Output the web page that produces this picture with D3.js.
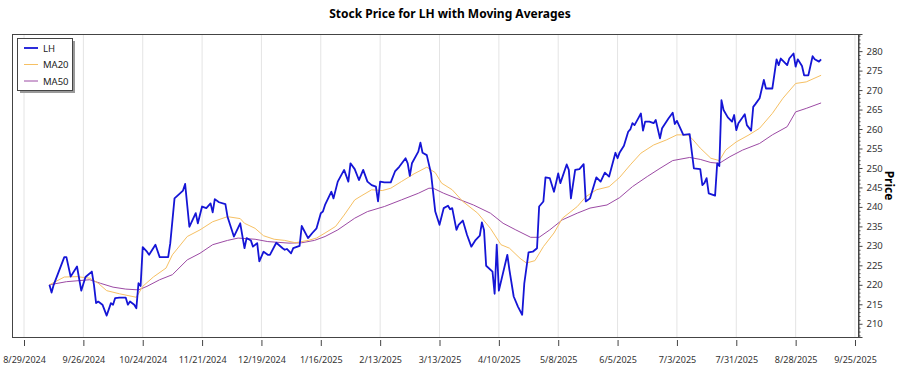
<!DOCTYPE html>
<html>
<head>
<meta charset="utf-8">
<script src="https://cdn.jsdelivr.net/npm/d3@7"></script>
<style>
  body { margin: 0; background: #fff; }
  svg text { font-family: "Noto Sans", "Open Sans", sans-serif; }
</style>
</head>
<body>
<div id="chart"></div>
<script>
// price vertices
const lhDates = ["2024-09-10","2024-09-11","2024-09-12","2024-09-17","2024-09-18","2024-09-20","2024-09-23","2024-09-25","2024-09-27","2024-09-30",
  "2024-10-01","2024-10-02","2024-10-03","2024-10-05","2024-10-07","2024-10-09","2024-10-10","2024-10-11","2024-10-13","2024-10-16",
  "2024-10-17","2024-10-18","2024-10-20","2024-10-21","2024-10-22","2024-10-23","2024-10-24","2024-10-26","2024-10-27","2024-10-30",
  "2024-11-01","2024-11-03","2024-11-05","2024-11-06","2024-11-08","2024-11-12","2024-11-13","2024-11-15","2024-11-18","2024-11-19",
  "2024-11-21","2024-11-23","2024-11-25","2024-11-26","2024-11-27","2024-11-29","2024-12-02","2024-12-03","2024-12-06","2024-12-09",
  "2024-12-11","2024-12-12","2024-12-14","2024-12-15","2024-12-17","2024-12-18","2024-12-20","2024-12-22","2024-12-23","2024-12-26",
  "2024-12-29","2024-12-30","2024-12-31","2025-01-02","2025-01-03","2025-01-06","2025-01-07","2025-01-10","2025-01-12","2025-01-14",
  "2025-01-16","2025-01-17","2025-01-18","2025-01-21","2025-01-22","2025-01-24","2025-01-27","2025-01-29","2025-01-30","2025-02-01",
  "2025-02-03","2025-02-05","2025-02-07","2025-02-09","2025-02-11","2025-02-12","2025-02-13","2025-02-15","2025-02-18","2025-02-20",
  "2025-02-22","2025-02-25","2025-02-26","2025-02-27","2025-02-28","2025-03-03","2025-03-04","2025-03-05","2025-03-07","2025-03-09",
  "2025-03-11","2025-03-13","2025-03-15","2025-03-17","2025-03-18","2025-03-19","2025-03-21","2025-03-22","2025-03-24","2025-03-26",
  "2025-03-28","2025-03-30","2025-04-01","2025-04-02","2025-04-03","2025-04-04","2025-04-07","2025-04-08","2025-04-09","2025-04-10",
  "2025-04-14","2025-04-15","2025-04-17","2025-04-19","2025-04-21","2025-04-22","2025-04-24","2025-04-26","2025-04-28","2025-04-29",
  "2025-05-01","2025-05-02","2025-05-04","2025-05-06","2025-05-08","2025-05-09","2025-05-12","2025-05-13","2025-05-14","2025-05-16",
  "2025-05-18","2025-05-20","2025-05-21","2025-05-23","2025-05-26","2025-05-28","2025-05-30","2025-06-01","2025-06-04","2025-06-05",
  "2025-06-06","2025-06-08","2025-06-10","2025-06-11","2025-06-12","2025-06-13","2025-06-15","2025-06-16","2025-06-17","2025-06-18",
  "2025-06-20","2025-06-22","2025-06-23","2025-06-25","2025-06-26","2025-06-29","2025-07-01","2025-07-02","2025-07-03","2025-07-05",
  "2025-07-06","2025-07-09","2025-07-10","2025-07-11","2025-07-14","2025-07-15","2025-07-16","2025-07-17","2025-07-18","2025-07-21",
  "2025-07-22","2025-07-23","2025-07-24","2025-07-25","2025-07-27","2025-07-29","2025-07-30","2025-07-31","2025-08-01","2025-08-03",
  "2025-08-04","2025-08-05","2025-08-07","2025-08-08","2025-08-09","2025-08-11","2025-08-13","2025-08-14","2025-08-17","2025-08-19",
  "2025-08-20","2025-08-21","2025-08-24","2025-08-25","2025-08-27","2025-08-28","2025-08-29","2025-08-31","2025-09-01","2025-09-03",
  "2025-09-05","2025-09-06","2025-09-08","2025-09-09"];
const lhPrice = [220.0,218.0,220.0,227.1,227.1,222.1,224.7,218.5,222.0,223.4,
  220.0,215.3,215.7,214.9,212.1,215.3,214.9,216.6,216.7,216.7,
  214.9,215.7,214.9,214.0,220.4,219.7,229.7,228.5,227.7,230.3,
  227.1,227.1,227.1,230.7,242.2,244.2,245.9,234.9,238.4,235.8,
  240.1,239.7,240.9,238.6,242.0,241.2,240.7,237.5,232.4,235.8,
  229.4,232.0,231.4,229.8,230.7,226.0,228.5,227.7,227.7,230.8,
  229.4,229.0,229.2,228.1,229.4,230.0,235.1,232.0,233.3,234.5,
  238.4,238.8,240.5,243.9,242.2,246.5,249.5,246.5,251.2,249.7,
  246.9,249.5,246.5,245.6,245.2,241.4,246.5,246.3,246.3,249.1,
  250.3,252.5,251.2,248.0,251.2,254.2,256.5,253.9,253.3,248.6,
  238.8,235.4,239.7,240.3,239.4,239.7,234.1,235.4,236.5,232.8,
  229.8,231.5,232.6,236.0,234.1,224.9,223.4,217.7,230.3,218.5,
  227.7,223.8,217.0,214.4,212.3,220.4,228.3,228.5,229.4,240.1,
  241.4,247.6,247.4,243.9,248.6,246.1,250.9,249.5,242.2,249.5,
  249.7,251.0,241.4,242.2,247.6,246.5,248.8,247.8,253.9,252.5,
  254.0,255.7,259.3,259.9,261.5,261.0,263.0,264.0,259.6,261.9,
  261.9,261.5,262.3,257.6,260.2,262.7,264.2,261.3,262.1,259.7,
  258.5,258.7,254.2,249.9,249.7,245.6,246.2,247.4,243.5,242.9,
  251.2,250.5,267.4,264.9,263.0,261.9,263.6,259.7,261.5,263.0,
  263.8,261.0,259.6,265.7,266.4,267.9,272.6,270.4,270.4,277.9,
  276.4,278.1,276.4,278.1,279.4,276.0,277.9,276.2,273.8,273.8,
  278.7,277.9,277.3,277.9];

const ma20Dates = ["2024-09-10","2024-09-17","2024-09-23","2024-09-29","2024-10-03","2024-10-07","2024-10-13","2024-10-21","2024-10-24","2024-10-29",
  "2024-11-04","2024-11-07","2024-11-14","2024-11-20","2024-11-26","2024-12-03","2024-12-09","2024-12-11","2024-12-16","2024-12-20",
  "2024-12-25","2024-12-30","2025-01-04","2025-01-10","2025-01-14","2025-01-18","2025-01-23","2025-01-27","2025-02-01","2025-02-04",
  "2025-02-09","2025-02-14","2025-02-18","2025-02-23","2025-03-01","2025-03-07","2025-03-11","2025-03-14","2025-03-19","2025-03-24",
  "2025-03-31","2025-04-06","2025-04-11","2025-04-15","2025-04-20","2025-04-23","2025-04-27","2025-05-01","2025-05-06","2025-05-10",
  "2025-05-17","2025-05-21","2025-05-26","2025-06-01","2025-06-06","2025-06-11","2025-06-16","2025-06-22","2025-06-28","2025-07-03",
  "2025-07-08","2025-07-10","2025-07-14","2025-07-19","2025-07-23","2025-07-26","2025-07-31","2025-08-06","2025-08-11","2025-08-17",
  "2025-08-22","2025-08-28","2025-09-02","2025-09-09"];
const ma20Price = [220.0,222.0,222.1,221.7,220.4,218.5,217.7,216.8,219.6,222.0,
  224.3,227.7,232.4,234.1,236.2,237.5,237.0,235.8,234.5,232.6,
  231.7,231.4,230.8,231.4,232.0,233.3,235.0,237.9,241.8,242.8,
  244.4,244.2,244.8,246.5,248.5,250.2,248.8,246.1,244.4,241.4,
  238.4,234.5,230.3,229.4,226.8,225.6,226.2,229.8,233.3,237.1,
  240.1,242.6,244.4,245.2,247.6,250.8,253.8,255.9,257.2,258.5,
  258.5,257.6,255.1,252.5,251.9,254.6,256.7,258.5,260.2,264.0,
  267.9,271.7,272.1,273.8];

const ma50Dates = ["2024-09-10","2024-09-18","2024-09-29","2024-10-04","2024-10-10","2024-10-16","2024-10-22","2024-10-26","2024-11-01","2024-11-07",
  "2024-11-14","2024-11-20","2024-11-26","2024-12-03","2024-12-08","2024-12-16","2024-12-22","2025-01-01","2025-01-07","2025-01-13",
  "2025-01-18","2025-01-24","2025-02-01","2025-02-07","2025-02-15","2025-02-23","2025-03-03","2025-03-08","2025-03-10","2025-03-15",
  "2025-03-21","2025-03-29","2025-04-06","2025-04-12","2025-04-18","2025-04-25","2025-04-29","2025-05-04","2025-05-10","2025-05-17",
  "2025-05-23","2025-05-31","2025-06-06","2025-06-12","2025-06-19","2025-06-25","2025-07-01","2025-07-09","2025-07-14","2025-07-19",
  "2025-07-23","2025-07-28","2025-08-03","2025-08-11","2025-08-17","2025-08-24","2025-08-28","2025-09-02","2025-09-09"];
const ma50Price = [220.0,220.8,221.3,220.4,219.4,218.9,218.7,219.6,221.3,222.6,
  226.4,228.1,230.3,231.4,232.0,231.7,231.1,230.7,230.8,231.4,
  232.4,234.1,237.1,238.8,240.1,241.8,243.5,244.8,244.8,243.5,
  242.2,240.5,238.4,235.8,234.1,232.2,232.2,234.1,236.7,238.4,
  239.7,240.5,242.4,245.2,247.8,249.9,251.9,252.7,252.2,251.4,
  251.2,252.9,254.6,256.3,258.5,260.6,264.4,265.3,266.7];

const xTickLabels = ["8/29/2024","9/26/2024","10/24/2024","11/21/2024","12/19/2024","1/16/2025","2/13/2025",
  "3/13/2025","4/10/2025","5/8/2025","6/5/2025","7/3/2025","7/31/2025","8/28/2025","9/25/2025"];
const yTicks = [210,215,220,225,230,235,240,245,250,255,260,265,270,275,280];

const seriesNames = ["LH","MA20","MA50"];
const seriesColors = ["#1515d6","#f6c063","#9c4aa4"];
const seriesWidths = [1.8,1,1];

const width = 900, height = 375;
const margin = {top: 34, right: 42, bottom: 38, left: 12};

const parse = d3.timeParse("%Y-%m-%d");
const parseTick = d3.timeParse("%m/%d/%Y");

const svg = d3.select("#chart").append("svg")
    .attr("width", width)
    .attr("height", height);

const x = d3.scaleTime()
    .domain([new Date(2024, 7, 23, 8), new Date(2025, 8, 26, 10)])
    .range([margin.left, width - margin.right]);

const y = d3.scaleLinear()
    .domain([206.6, 284.4])
    .range([height - margin.bottom, margin.top]);

const tickDates = xTickLabels.map(parseTick);

// vertical grid
svg.append("g")
    .selectAll("line")
    .data(tickDates.filter(d => x(d) > margin.left + 2 && x(d) < width - margin.right - 2))
    .enter().append("line")
    .attr("x1", d => x(d)).attr("x2", d => x(d))
    .attr("y1", margin.top).attr("y2", height - margin.bottom)
    .attr("stroke", "#e4e4e4")
    .attr("stroke-width", 1);

// lines
const series = [
    {name: seriesNames[0], dates: lhDates, vals: lhPrice},
    {name: seriesNames[1], dates: ma20Dates, vals: ma20Price},
    {name: seriesNames[2], dates: ma50Dates, vals: ma50Price}
];

const line = d3.line()
    .x(d => x(d[0]))
    .y(d => y(d[1]));

const plot = svg.append("g");
// MAs underneath, price on top
[2, 1, 0].forEach(i => {
    const s = series[i];
    plot.append("path")
        .datum(s.dates.map((d, j) => [parse(d), s.vals[j]]))
        .attr("fill", "none")
        .attr("stroke", seriesColors[i])
        .attr("stroke-width", seriesWidths[i])
        .attr("stroke-linejoin", "round")
        .attr("d", line);
});

// frame
svg.append("rect")
    .attr("x", margin.left + 0.5)
    .attr("y", margin.top + 0.5)
    .attr("width", width - margin.left - margin.right)
    .attr("height", height - margin.top - margin.bottom)
    .attr("fill", "none")
    .attr("stroke", "#444")
    .attr("stroke-width", 1);

// right y axis
const yAxis = d3.axisRight(y)
    .tickValues(yTicks)
    .tickSize(4)
    .tickPadding(4);

const yg = svg.append("g")
    .attr("transform", `translate(${width - margin.right + 0.5},0)`)
    .call(yAxis);
yg.select(".domain").attr("stroke", "#444");
yg.selectAll(".tick line").attr("stroke", "#444");
yg.selectAll(".tick text").attr("fill", "#333").style("font-size", "9.5px");

// minor ticks
yg.append("g")
    .selectAll("line")
    .data(d3.range(207, 285, 1).filter(v => v % 5 !== 0))
    .enter().append("line")
    .attr("x1", 0).attr("x2", 2)
    .attr("y1", d => y(d) + 0.5).attr("y2", d => y(d) + 0.5)
    .attr("stroke", "#444");

// bottom x axis
const xAxis = d3.axisBottom(x)
    .tickValues(tickDates)
    .tickFormat((d, i) => xTickLabels[i])
    .tickSize(6)
    .tickPadding(11);

const xg = svg.append("g")
    .attr("transform", `translate(0,${height - margin.bottom + 3})`)
    .call(xAxis);
xg.select(".domain").remove();
xg.selectAll(".tick line").attr("stroke", "#444");
xg.selectAll(".tick text").attr("fill", "#333").style("font-size", "9px");

// title
svg.append("text")
    .attr("x", 450)
    .attr("y", 18)
    .attr("text-anchor", "middle")
    .style("font-size", "12px")
    .style("font-weight", "bold")
    .text("Stock Price for LH with Moving Averages");

// y axis label
svg.append("text")
    .attr("transform", `translate(885,${(margin.top + height - margin.bottom) / 2}) rotate(90)`)
    .attr("text-anchor", "middle")
    .style("font-size", "12px")
    .style("font-weight", "bold")
    .text("Price");

// legend
const legend = svg.append("g").attr("transform", "translate(17,38)");
legend.append("rect")
    .attr("x", 3).attr("y", 3)
    .attr("width", 55).attr("height", 52)
    .attr("fill", "#999");
legend.append("rect")
    .attr("x", 0.5).attr("y", 0.5)
    .attr("width", 55).attr("height", 52)
    .attr("fill", "#fff")
    .attr("stroke", "#444");

seriesNames.forEach((name, i) => {
    const g = legend.append("g").attr("transform", `translate(0,${10 + i * 16.5})`);
    g.append("line")
        .attr("x1", 7).attr("x2", 21)
        .attr("y1", 0).attr("y2", 0)
        .attr("stroke", seriesColors[i])
        .attr("stroke-width", seriesWidths[i]);
    g.append("text")
        .attr("x", 26).attr("y", 3.5)
        .style("font-size", "9.5px")
        .attr("fill", "#222")
        .text(name);
});
</script>
</body>
</html>
